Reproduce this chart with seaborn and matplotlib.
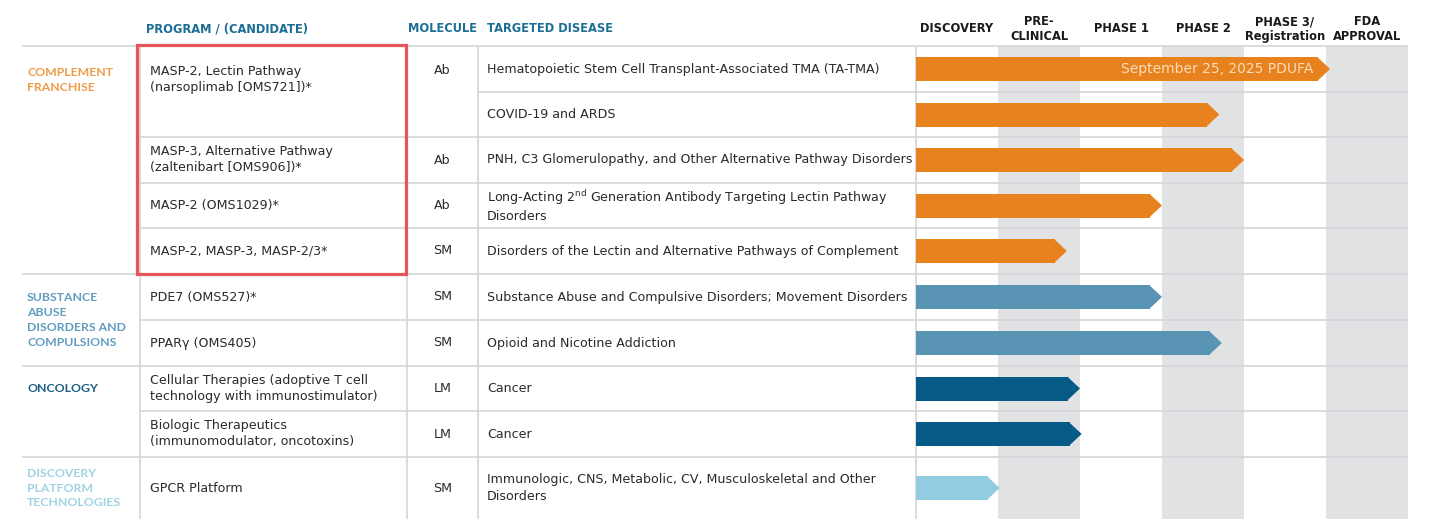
import matplotlib
matplotlib.use("Agg")
import matplotlib.pyplot as plt
from matplotlib.patches import Polygon, Rectangle
import pandas as pd
import seaborn as sns

# ---- data ----
stages = ["DISCOVERY", "PRE-\nCLINICAL", "PHASE 1", "PHASE 2",
          "PHASE 3/\nRegistration", "FDA\nAPPROVAL"]

groups = ["complement", "substance", "oncology", "platform"]
group_labels = ["COMPLEMENT\nFRANCHISE",
                "SUBSTANCE\nABUSE\nDISORDERS AND\nCOMPULSIONS",
                "ONCOLOGY",
                "DISCOVERY\nPLATFORM\nTECHNOLOGIES"]

row_group = ["complement"] * 5 + ["substance"] * 2 + ["oncology"] * 2 + ["platform"]

# None = cell merged with the row above
programs = ["MASP-2, Lectin Pathway\n(narsoplimab [OMS721])*",
            None,
            "MASP-3, Alternative Pathway\n(zaltenibart [OMS906])*",
            "MASP-2 (OMS1029)*",
            "MASP-2, MASP-3, MASP-2/3*",
            "PDE7 (OMS527)*",
            "PPARγ (OMS405)",
            "Cellular Therapies (adoptive T cell\ntechnology with immunostimulator)",
            "Biologic Therapeutics\n(immunomodulator, oncotoxins)",
            "GPCR Platform"]
molecules = ["Ab", None, "Ab", "Ab", "SM", "SM", "SM", "LM", "LM", "SM"]
diseases = ["Hematopoietic Stem Cell Transplant-Associated TMA (TA-TMA)",
            "COVID-19 and ARDS",
            "PNH, C3 Glomerulopathy, and Other Alternative Pathway Disorders",
            "Long-Acting 2$^{\\mathrm{nd}}$ Generation Antibody Targeting Lectin Pathway\nDisorders",
            "Disorders of the Lectin and Alternative Pathways of Complement",
            "Substance Abuse and Compulsive Disorders; Movement Disorders",
            "Opioid and Nicotine Addiction",
            "Cancer",
            "Cancer",
            "Immunologic, CNS, Metabolic, CV, Musculoskeletal and Other\nDisorders"]

# how far each program has got, in stage units (arrow tip)
stage_reached = [5.05, 3.70, 4.00, 3.00, 1.84, 3.00, 3.73, 2.00, 2.02, 1.02]
pdufa_note = "September 25, 2025 PDUFA"

# ---- styling ----
bar_colors = {"complement": "#e8821f", "substance": "#5a94b5",
              "oncology": "#055a87", "platform": "#92cce0"}
label_colors = {"complement": "#f09a45", "substance": "#5f9dc0",
                "oncology": "#1b5c82", "platform": "#9fd2e3"}
HEAD_BLUE = "#1c6e96"
GRID = "#d3d5d8"
SHADE = "#e1e2e4"
RED = "#e5565a"
TXT = "#2a2a2a"
FS_HEAD = 8.3
FS = 9.1
FS_GROUP = 8.8

W, H = 1439, 525
row_tops = [46, 92, 137, 183, 228, 274, 320, 366, 411, 457]
table_bottom = 519
row_centers = [(a + b) / 2 for a, b in zip(row_tops, row_tops[1:] + [table_bottom])]
X_LEFT, X_PROG, X_MOL, X_DIS, X_PIPE = 22, 140, 407, 478, 916
STAGE_W = 82
X_RIGHT = X_PIPE + STAGE_W * len(stages)
TIP = 12 / STAGE_W          # arrow head length in stage units
BAR_H = 24                  # px

sns.set_theme(style="white")
plt.rcParams["font.family"] = ["DejaVu Sans"]
plt.rcParams["mathtext.fontset"] = "dejavusans"

fig = plt.figure(figsize=(W / 100, H / 100), dpi=100)
ax = fig.add_axes([0, 0, 1, 1])
ax.set_xlim(0, W)
ax.set_ylim(H, 0)
ax.axis("off")

# shaded stage columns
for i in range(1, len(stages), 2):
    ax.add_patch(Rectangle((X_PIPE + i * STAGE_W, row_tops[0]), STAGE_W,
                           table_bottom - row_tops[0], color=SHADE, lw=0, zorder=0))

# horizontal rules
ax.hlines(row_tops[0], X_LEFT, X_RIGHT, color=GRID, lw=1.2, zorder=1)
for i in range(1, len(row_tops)):
    if row_group[i] != row_group[i - 1]:
        x0 = X_LEFT
    elif programs[i] is None:
        x0 = X_DIS
    else:
        x0 = X_PROG
    ax.hlines(row_tops[i], x0, X_RIGHT, color=GRID, lw=1.2, zorder=1)

# vertical rules
for x in [X_PROG, X_MOL, X_DIS, X_PIPE]:
    ax.vlines(x, row_tops[0], table_bottom, color=GRID, lw=1.2, zorder=1)

# headers
head_y = 29
ax.text(146, head_y, "PROGRAM / (CANDIDATE)", color=HEAD_BLUE, fontsize=FS_HEAD,
        fontweight="bold", va="center")
ax.text((X_MOL + X_DIS) / 2, head_y, "MOLECULE", color=HEAD_BLUE, fontsize=FS_HEAD,
        fontweight="bold", va="center", ha="center")
ax.text(487, head_y, "TARGETED DISEASE", color=HEAD_BLUE, fontsize=FS_HEAD,
        fontweight="bold", va="center")
for i, s in enumerate(stages):
    ax.text(X_PIPE + (i + 0.5) * STAGE_W, head_y, s, fontsize=FS_HEAD, fontweight="bold",
            ha="center", va="center", linespacing=1.15, color="#1a1a1a")

# group labels
for g, lab in zip(groups, group_labels):
    idx = [i for i, rg in enumerate(row_group) if rg == g]
    n_lines = lab.count("\n") + 1
    if n_lines > 2:
        bottom = row_tops[idx[-1] + 1] if idx[-1] + 1 < len(row_tops) else table_bottom
        y = (row_tops[idx[0]] + bottom) / 2
    else:
        y = row_centers[idx[0]] + (11 if n_lines == 2 else 0)
    ax.text(27, y, lab, color=label_colors[g], fontsize=FS_GROUP, va="center",
            linespacing=1.42, fontweight="bold", family=["Lato", "DejaVu Sans"])

# program / molecule / disease cells
for i in range(len(diseases)):
    if programs[i] is not None:
        merged = i + 1 < len(programs) and programs[i + 1] is None
        py = row_centers[i] + (11 if merged else 0)
        ax.text(150, py, programs[i], fontsize=FS, va="center", linespacing=1.3,
                color=TXT)
        ax.text((X_MOL + X_DIS) / 2, row_centers[i] + (2 if merged else 0), molecules[i],
                fontsize=FS, va="center", ha="center", color=TXT)
    ax.text(487, row_centers[i], diseases[i], fontsize=FS, va="center",
            linespacing=1.3, color=TXT)

# red highlight box around the complement programs
ax.add_patch(Rectangle((X_PROG - 3, row_tops[0] - 1), X_MOL - X_PROG + 2,
                       row_tops[5] - row_tops[0] + 1, fill=False,
                       edgecolor=RED, lw=2.3, zorder=5))

# pipeline arrows
ax_pipe = fig.add_axes([X_PIPE / W, 1 - table_bottom / H,
                        (X_RIGHT - X_PIPE) / W, (table_bottom - row_tops[0]) / H])
ax_pipe.patch.set_alpha(0)
df = pd.DataFrame({"row_y": row_centers,
                   "body": [v - TIP for v in stage_reached],
                   "group": row_group})
min_gap = min(b - a for a, b in zip(row_centers, row_centers[1:]))
sns.barplot(data=df, x="body", y="row_y", hue="group", palette=bar_colors,
            orient="h", native_scale=True, width=BAR_H / min_gap, dodge=False,
            errorbar=None, saturation=1, legend=False, linewidth=0, ax=ax_pipe)
for y, v, g in zip(row_centers, stage_reached, row_group):
    ax_pipe.add_patch(Polygon([[v - TIP - 0.01, y - BAR_H / 2], [v, y],
                               [v - TIP - 0.01, y + BAR_H / 2]],
                              closed=True, color=bar_colors[g], lw=0))
ax_pipe.text(stage_reached[0] - TIP - 0.06, row_centers[0], pdufa_note,
             ha="right", va="center", color="#fbdcb8", fontsize=10)
ax_pipe.set_xlim(0, len(stages))
ax_pipe.set_ylim(table_bottom, row_tops[0])
ax_pipe.axis("off")

fig.savefig("out.png", dpi=100)
